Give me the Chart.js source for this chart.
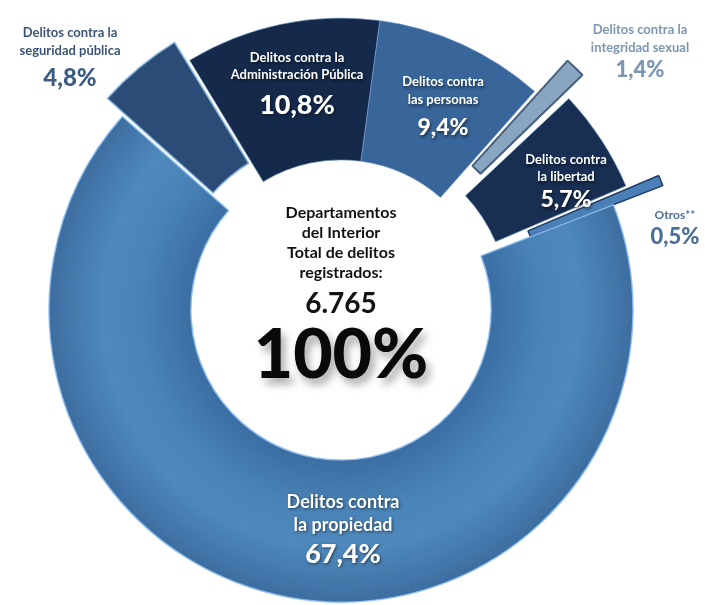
<!DOCTYPE html>
<html>
<head>
<meta charset="utf-8">
<script src="https://cdn.jsdelivr.net/npm/chart.js@4.4.1/dist/chart.umd.min.js"></script>
<style>
  html, body { margin: 0; padding: 0; background: #ffffff; }
  #wrap { width: 710px; height: 605px; position: relative; }
</style>
</head>
<body>
<div id="wrap"><canvas id="c" width="710" height="605"></canvas></div>
<script>
// ---- data ----
const categories = [
  'Delitos contra la seguridad pública',
  'Delitos contra la Administración Pública',
  'Delitos contra las personas',
  'Delitos contra la integridad sexual',
  'Delitos contra la libertad',
  'Otros**',
  'Delitos contra la propiedad'
];
const shares = [4.8, 10.8, 9.4, 1.4, 5.7, 0.5, 67.4];
const totalCrimes = 6765;
const centerTitle = ['Departamentos', 'del Interior', 'Total de delitos', 'registrados:'];

const labelLines = [
  ['Delitos contra la', 'seguridad pública'],
  ['Delitos contra la', 'Administración Pública'],
  ['Delitos contra', 'las personas'],
  ['Delitos contra la', 'integridad sexual'],
  ['Delitos contra', 'la libertad'],
  ['Otros**'],
  ['Delitos contra', 'la propiedad']
];

// ---- styles ----
const segColors = ['#2a4c76', '#152a4b', '#38659a', '#8aa5c0', '#182f53', '#4b7fb7', null];
const segBorders = ['rgba(140,185,230,0.9)', 'rgba(120,160,210,0.6)', 'rgba(120,160,210,0.6)', '#45617f', 'rgba(120,160,210,0.6)', '#1f3d66', 'rgba(140,190,240,0.9)'];
const segBorderWidths = [1.5, 1, 1, 2, 1, 1.5, 1.5];
const segOffsets = [55, 0, 0, 94, 46, 0, 0];
const segRadialShift = [0, 0, 0, 0, 0, 53, 0];

// label layout: x, y of first line, line size, pct size, colors
const labelLayout = [
  { x: 70,  y: 33,  line: 13, lineGap: 18, pct: 24, pctGap: 27, color: '#3b5579', pctColor: '#3d5c83', shadow: false },
  { x: 297, y: 58,  line: 13, lineGap: 17, pct: 27, pctGap: 30, color: '#ffffff', pctColor: '#ffffff', shadow: true },
  { x: 443, y: 82,  line: 13, lineGap: 18, pct: 23, pctGap: 28, color: '#ffffff', pctColor: '#ffffff', shadow: true },
  { x: 640, y: 30,  line: 13, lineGap: 18, pct: 22, pctGap: 22, color: '#7b96b3', pctColor: '#7b96b3', shadow: false },
  { x: 566, y: 160, line: 13, lineGap: 17, pct: 23, pctGap: 23, color: '#ffffff', pctColor: '#ffffff', shadow: true },
  { x: 675, y: 215, line: 12, lineGap: 0,  pct: 22, pctGap: 22, color: '#4c6f99', pctColor: '#4c6f99', shadow: false },
  { x: 343, y: 502, line: 18, lineGap: 23, pct: 27, pctGap: 29, color: '#ffffff', pctColor: '#ffffff', shadow: true }
];

const FONT = 'Lato, "Open Sans", sans-serif';

function fmtPct(v) { return v.toFixed(1).replace('.', ',') + '%'; }
function fmtInt(v) { return String(v).replace(/\B(?=(\d{3})+(?!\d))/g, '.'); }

function propiedadFill(context) {
  const chart = context.chart;
  const area = chart.chartArea;
  if (!area) return '#4779ab';
  const cx = (area.left + area.right) / 2;
  const cy = (area.top + area.bottom) / 2;
  const g = chart.ctx.createRadialGradient(cx, cy, 150, cx, cy, 295);
  g.addColorStop(0, '#3b6ea3');
  g.addColorStop(0.35, '#4a83b7');
  g.addColorStop(0.6, '#4f89bc');
  g.addColorStop(1, '#3c6ca0');
  return g;
}

const radialShiftPlugin = {
  id: 'radialShift',
  afterDatasetUpdate(chart, args) {
    const meta = chart.getDatasetMeta(args.index);
    meta.data.forEach((arc, i) => {
      const s = segRadialShift[i] || 0;
      if (s) {
        arc.innerRadius += s;
        arc.outerRadius += s;
      }
    });
  }
};

const labelPlugin = {
  id: 'labels',
  afterDraw(chart) {
    const ctx = chart.ctx;
    const meta = chart.getDatasetMeta(0);
    const arc0 = meta.data[0];
    const cx = arc0.x, cy = arc0.y;
    ctx.save();
    ctx.textAlign = 'center';
    ctx.textBaseline = 'middle';
    labelLines.forEach((lines, i) => {
      const L = labelLayout[i];
      if (L.shadow) {
        ctx.shadowColor = 'rgba(0,0,0,0.55)';
        ctx.shadowBlur = 3;
        ctx.shadowOffsetX = 1;
        ctx.shadowOffsetY = 1.5;
      } else {
        ctx.shadowColor = 'transparent';
        ctx.shadowBlur = 0; ctx.shadowOffsetX = 0; ctx.shadowOffsetY = 0;
      }
      ctx.fillStyle = L.color;
      ctx.font = 'bold ' + L.line + 'px ' + FONT;
      lines.forEach((t, k) => ctx.fillText(t, L.x, L.y + k * L.lineGap));
      ctx.fillStyle = L.pctColor;
      ctx.font = '900 ' + L.pct + 'px ' + FONT;
      const py = L.y + (lines.length - 1) * L.lineGap + L.pctGap;
      ctx.fillText(fmtPct(shares[i]), L.x, py);
    });

    // center text
    ctx.shadowColor = 'transparent';
    ctx.shadowBlur = 0; ctx.shadowOffsetX = 0; ctx.shadowOffsetY = 0;
    ctx.fillStyle = '#111111';
    ctx.font = 'bold 16px ' + FONT;
    centerTitle.forEach((t, k) => ctx.fillText(t, cx, cy - 97 + k * 20));
    ctx.font = 'bold 28px ' + FONT;
    ctx.fillText(fmtInt(totalCrimes), cx, cy - 6);
    ctx.shadowColor = 'rgba(0,0,0,0.35)';
    ctx.shadowBlur = 8;
    ctx.shadowOffsetX = 4;
    ctx.shadowOffsetY = 6;
    ctx.fillStyle = '#0a0a0a';
    ctx.font = '900 68px ' + FONT;
    ctx.fillText(fmtPct(shares.reduce((a, b) => a + b, 0)).replace(',0', ''), cx, cy + 46);
    ctx.restore();
  }
};

new Chart(document.getElementById('c'), {
  type: 'doughnut',
  data: {
    labels: categories,
    datasets: [{
      data: shares,
      backgroundColor: (c) => (c.dataIndex === 6 ? propiedadFill(c) : segColors[c.dataIndex]),
      borderColor: segBorders,
      borderWidth: segBorderWidths,
      offset: segOffsets,
      hoverOffset: 0
    }]
  },
  options: {
    responsive: false,
    animation: false,
    rotation: -48.5,
    radius: 292,
    cutout: '51.4%',
    layout: { padding: { left: 0, right: 28, top: 15, bottom: 0 } },
    plugins: { legend: { display: false }, tooltip: { enabled: false } },
    events: []
  },
  plugins: [radialShiftPlugin, labelPlugin]
});
</script>
</body>
</html>
